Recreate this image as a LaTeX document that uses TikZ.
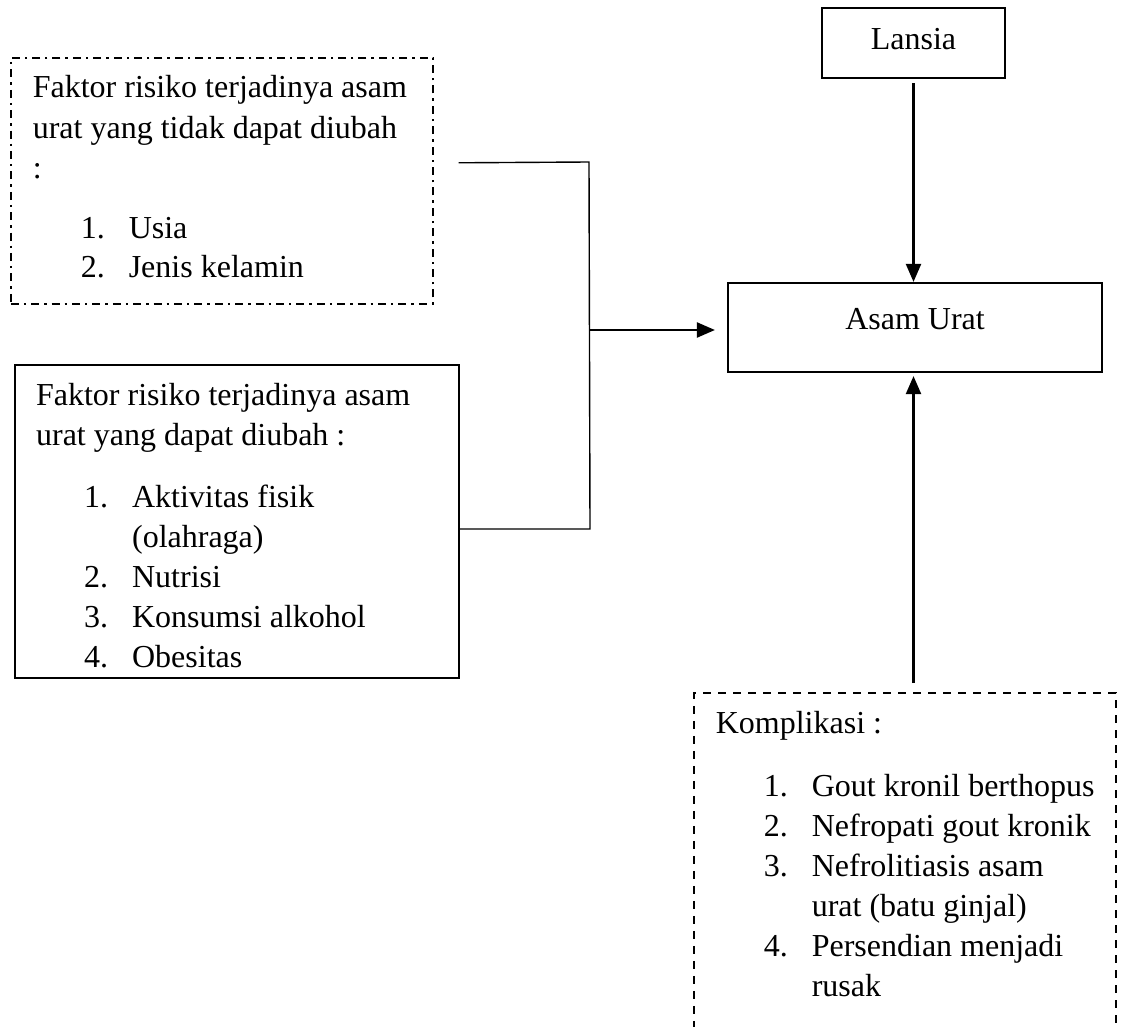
\documentclass[tikz,border=0pt]{standalone}
\usepackage{fontspec}
\setmainfont{Liberation Serif}
\usetikzlibrary{positioning,arrows.meta}
\newcommand{\butir}[2]{\hspace*{24pt}\makebox[24pt][l]{#1}\mbox{#2}}
\newcommand{\lanjut}[1]{\hspace*{48pt}#1}

\begin{document}
\begin{tikzpicture}[x=0.5pt, y=-0.5pt,
		font=\fontsize{16}{20}\selectfont,
		kotak/.style={draw, line width=1.1pt, inner sep=0pt},
		faktor/.style={draw, anchor=north west, inner ysep=0pt, inner xsep=11pt},
		garis/.style={line width=0.7pt},
		arr/.style={-{Triangle[length=9pt,width=7.5pt]}, line width=1.1pt}]
		\clip (0,0) rectangle (1125,1027);
		% faktor risiko
		\node[faktor, line width=0.8pt, dash pattern=on 4pt off 2.5pt on 1.2pt off 2.5pt] (tetap) at (10,57)
			{\begin{minipage}[c][123pt][t]{189pt}\raggedright
			\vspace*{9pt}Faktor risiko terjadinya asam\\
			urat yang tidak dapat diubah\\
			:\\[10pt]
			\butir{1.}{Usia}\\
			\butir{2.}{Jenis kelamin}\end{minipage}};
		\node[faktor, line width=1.1pt, inner xsep=10.5pt] (ubah) at (14,364)
			{\begin{minipage}[c][156.5pt][t]{201pt}\raggedright
			\vspace*{9pt}Faktor risiko terjadinya asam\\
			urat yang dapat diubah :\\[11pt]
			\butir{1.}{Aktivitas fisik}\\
			\lanjut{(olahraga)}\\
			\butir{2.}{Nutrisi}\\
			\butir{3.}{Konsumsi alkohol}\\
			\butir{4.}{Obesitas}\end{minipage}};
		% pusat
		\node[kotak, minimum width=91.5pt, minimum height=35pt, text height=11pt, text depth=4pt] (lansia) at (913.5,43) {Lansia};
		\node[kotak, minimum width=187pt, minimum height=44.5pt, text height=11pt, text depth=9pt] (asam) at (915,327.5) {Asam Urat};
		% komplikasi
		\node[faktor, line width=0.8pt, dash pattern=on 4pt off 3.5pt] (komp) at (693,692)
			{\begin{minipage}[c][179pt][t]{189pt}\raggedright
			\vspace*{9pt}Komplikasi :\\[11.5pt]
			\butir{1.}{Gout kronil berthopus}\\
			\butir{2.}{Nefropati gout kronik}\\
			\butir{3.}{Nefrolitiasis asam}\\
			\lanjut{urat (batu ginjal)}\\
			\butir{4.}{Persendian menjadi}\\
			\lanjut{rusak}\end{minipage}};
		% penghubung
		\coordinate (atas) at (589,162);
		\coordinate (bawah) at (590,529);
		\coordinate (temu) at (590,330);
		\draw[garis] ([shift={(12.5pt,9pt)}]tetap.east) -- (atas) -- (bawah) -- (ubah.east |- bawah);
		\draw[arr, shorten >=6pt] (temu) -- (temu -| asam.west);
		\draw[arr, shorten <=2pt] (lansia.south) -- (lansia.south |- asam.north);
		\draw[arr, shorten <=4.5pt, shorten >=1.5pt] (lansia.south |- komp.north) -- (lansia.south |- asam.south);
	\end{tikzpicture}
\end{document}
